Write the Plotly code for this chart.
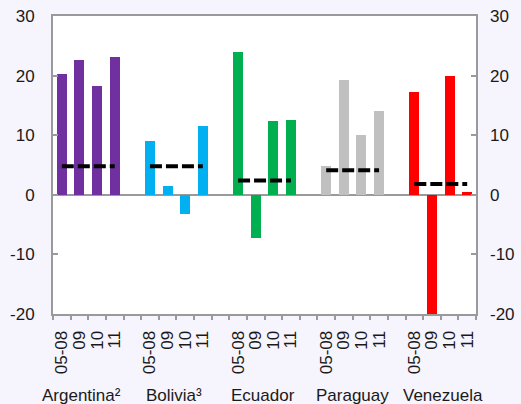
import plotly.graph_objects as go

countries = ["Argentina²", "Bolivia³", "Ecuador", "Paraguay", "Venezuela"]
periods = ["05-08", "09", "10", "11"]
argentina = [20.2, 22.6, 18.3, 23.2]
bolivia = [9.1, 1.4, -3.3, 11.6]
ecuador = [23.9, -7.3, 12.3, 12.6]
paraguay = [4.8, 19.2, 10.0, 14.0]
venezuela = [17.3, -21.0, 19.9, 0.4]
averages = [4.8, 4.8, 2.4, 4.1, 1.8]
colors = ["#7030A0", "#00B0F0", "#00B050", "#C0C0C0", "#FF0000"]
y_ticks = [-20, -10, 0, 10, 20, 30]
y_ticklabels = ["-20", "-10", "0", "10", "20", "30"]

series = [argentina, bolivia, ecuador, paraguay, venezuela]
slot = len(periods) + 1
FONT = "Arial, Liberation Sans, sans-serif"
label_shift = [-7, -2, -2, 0, 2]

fig = go.Figure()
tickvals, ticktext = [], []
for gi, (name, vals, col, avg) in enumerate(zip(countries, series, colors, averages)):
    xs = [gi * slot + j for j in range(len(periods))]
    tickvals += xs
    ticktext += periods
    fig.add_trace(go.Bar(x=xs, y=vals, marker=dict(color=col, line=dict(width=0)),
                         width=0.57, showlegend=False))
    fig.add_trace(go.Scatter(x=[xs[0], xs[-1]], y=[avg, avg], mode="lines",
                             line=dict(color="black", width=4, dash="12px,4px"),
                             showlegend=False))
    fig.add_annotation(x=(xs[0] + xs[-1]) / 2, y=0, xref="x", yref="paper",
                       text=name, showarrow=False, yanchor="middle", yshift=-81,
                       xshift=label_shift[gi],
                       font=dict(size=17, color="#1a1a1a", family=FONT))

# invisible trace to activate right axis
fig.add_trace(go.Scatter(x=[0], y=[0], yaxis="y2", mode="markers",
                         marker=dict(opacity=0), showlegend=False, hoverinfo="skip"))

n_slots = len(countries) * slot - 1
axis_col = "#9a9a9a"
BG = "#F6F4FD"
fig.update_layout(
    width=521, height=404,
    margin=dict(l=53, r=45, t=16, b=90),
    paper_bgcolor=BG, plot_bgcolor="white",
    bargap=0,
    font=dict(family=FONT, size=16, color="#1a1a1a"),
    xaxis=dict(range=[-0.5, n_slots - 0.5], tickvals=tickvals, ticktext=ticktext,
               tickangle=-90, ticks="", showgrid=False, zeroline=False,
               showline=True, linecolor=axis_col, linewidth=2, mirror=True,
               tickfont=dict(size=17), automargin=False, ticklabelstandoff=8,
               minor=dict(tick0=-0.5, dtick=1, ticks="outside", ticklen=4,
                          tickcolor=axis_col, tickwidth=2, showgrid=False)),
    yaxis=dict(range=[-20, 30], tickvals=y_ticks, ticktext=y_ticklabels,
               ticks="inside", ticklen=5, tickwidth=2,
               tickcolor=axis_col, showgrid=False, zeroline=True,
               zerolinecolor=axis_col, zerolinewidth=2, automargin=False,
               showline=True, linecolor=axis_col, linewidth=2, mirror=True,
               tickfont=dict(size=17), ticklabelstandoff=13),
    yaxis2=dict(range=[-20, 30], tickvals=y_ticks, ticktext=y_ticklabels,
                ticks="inside", ticklen=5, tickwidth=2,
                tickcolor=axis_col, overlaying="y", side="right", showgrid=False,
                zeroline=False, showline=False, tickfont=dict(size=17),
                automargin=False, ticklabelstandoff=13),
)

fig.write_html(
    "out.html",
    config={"displayModeBar": False},
    post_script=f"document.body.style.margin='0';document.body.style.background='{BG}';",
)
